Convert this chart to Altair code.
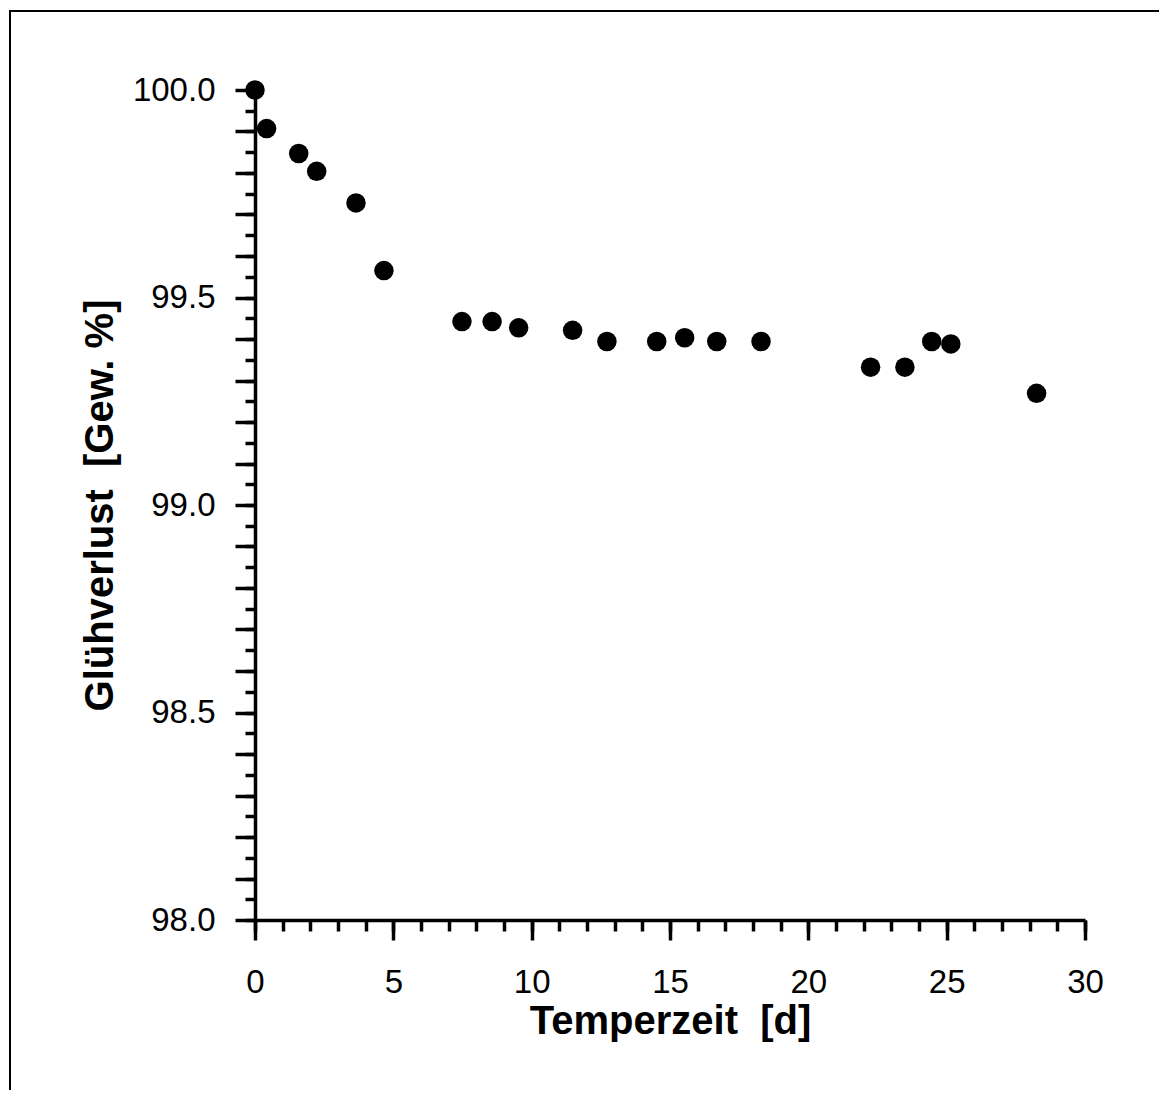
import altair as alt
import pandas as pd

# Data
temperzeit = [0.0, 0.42, 1.58, 2.23, 3.65, 4.66, 7.48, 8.57, 9.53, 11.48,
              12.72, 14.52, 15.53, 16.69, 18.29, 22.25, 23.49, 24.46, 25.15, 28.25]
gluehverlust = [100.0, 99.907, 99.847, 99.804, 99.728, 99.565, 99.442, 99.442, 99.427, 99.421,
                99.394, 99.394, 99.403, 99.394, 99.394, 99.332, 99.332, 99.394, 99.388, 99.269]

x_major = [0, 5, 10, 15, 20, 25, 30]
x_minor = list(range(0, 31))
y_major = [round(98.0 + 0.1 * i, 2) for i in range(21)]
y_minor = [round(98.0 + 0.05 * i, 2) for i in range(41)]

x_title = "Temperzeit \u00a0[d]"
y_title = "Glühverlust \u00a0[Gew. %]"

df = pd.DataFrame({"t": temperzeit, "g": gluehverlust})

FONT = "Liberation Sans"
W, H = 830, 830

xscale = alt.Scale(domain=[0, 30], nice=False, zero=False)
yscale = alt.Scale(domain=[98, 100], nice=False, zero=False)

frame_top = alt.Chart(df).mark_rule(color="black", strokeWidth=2).encode(
    x=alt.value(-245), x2=alt.value(1100), y=alt.value(-79)
)
frame_left = alt.Chart(df).mark_rule(color="black", strokeWidth=2).encode(
    x=alt.value(-245), y=alt.value(-80), y2=alt.value(1200)
)

points = alt.Chart(df).mark_circle(size=380, color="black", opacity=1).encode(
    x=alt.X("t:Q", scale=xscale, axis=alt.Axis(
        values=x_major, orient="bottom", title=x_title,
        tickSize=20, tickWidth=3.5, domainWidth=3.5, domainColor="black", tickColor="black",
        labelFont=FONT, labelFontSize=33, labelColor="black", labelPadding=26,
        labelFlush=False, labelOverlap=False, grid=False,
        titleFont=FONT, titleFontSize=40, titleFontWeight="bold", titleColor="black",
        titleX=415, titleY=113, titleAlign="center", titleBaseline="alphabetic",
        titleAnchor="middle",
    )),
    y=alt.Y("g:Q", scale=yscale, axis=alt.Axis(
        values=y_major, orient="left", title=y_title,
        labelExpr="abs(datum.value*2 - round(datum.value*2)) < 0.001 ? format(datum.value, '.1f') : ''",
        tickSize=20, tickWidth=3.5, domainWidth=3.5, domainColor="black", tickColor="black",
        labelFont=FONT, labelFontSize=33, labelColor="black", labelPadding=20,
        labelFlush=False, labelOverlap=False, grid=False,
        titleFont=FONT, titleFontSize=40, titleFontWeight="bold", titleColor="black",
        titleAngle=270, titleX=-143, titleY=415, titleAlign="center",
        titleBaseline="alphabetic", titleAnchor="middle",
    )),
)

minor = alt.Chart(df).mark_point(opacity=0).encode(
    x=alt.X("t:Q", scale=xscale, axis=alt.Axis(
        values=x_minor, orient="bottom", title=None, labels=False, domain=False,
        tickSize=11, tickWidth=3.5, tickColor="black", grid=False,
    )),
    y=alt.Y("g:Q", scale=yscale, axis=alt.Axis(
        values=y_minor, orient="left", title=None, labels=False, domain=False,
        tickSize=10, tickWidth=3.5, tickColor="black", grid=False,
    )),
)

chart = alt.layer(frame_top, frame_left, minor, points).resolve_axis(
    x="independent", y="independent"
).properties(
    width=W, height=H,
    autosize=alt.AutoSizeParams(type="none"),
    padding={"left": 247, "top": 82, "right": 74, "bottom": 170},
    background="white",
).configure_view(stroke=None)

chart.save("out.html", embed_options={"renderer": "svg", "actions": False})
